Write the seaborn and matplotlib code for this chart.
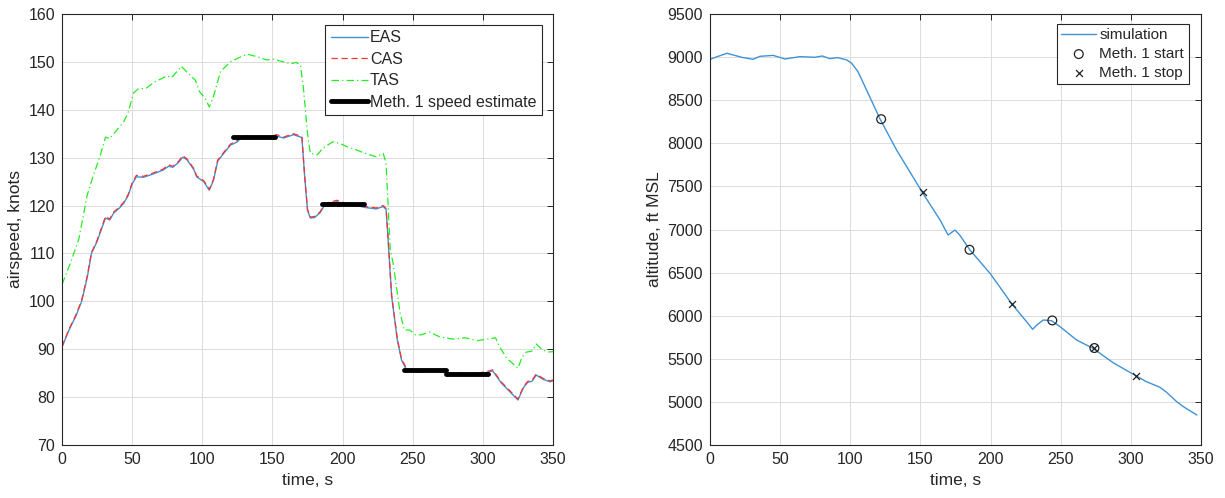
import numpy as np
import pandas as pd
import matplotlib
matplotlib.use("Agg")
import matplotlib.pyplot as plt
import seaborn as sns

# --- airspeed data (left panel), knots ---
t_speed = [0, 5, 10, 14, 18, 21, 25, 28, 31, 34,
           37, 41, 44, 47, 50, 53, 58, 65, 72, 76,
           79, 83, 86, 89, 94, 96, 101, 105, 108, 111,
           115, 120, 125, 128, 136, 146, 153, 158, 165, 171,
           173, 175, 177, 180, 184, 187, 191, 196, 203, 210,
           216, 224, 229, 231, 232, 235, 239, 242, 245, 250,
           255, 260, 265, 270, 275, 282, 290, 295, 300, 305,
           307, 313, 319, 325, 329, 332, 335, 338, 343, 348, 350]
eas = [90.5, 94, 97, 100, 105, 110, 112.5, 115, 117.4, 117,
       118.5, 119.5, 120.5, 122, 124.5, 126, 125.9, 126.6, 127.4, 128.2,
       128, 129, 130.1, 129.6, 127.5, 126, 125, 123.2, 125.3, 129.3,
       130.8, 132.6, 133.3, 134.3, 134.2, 134, 134.5, 134.1, 134.8, 134.2,
       126, 119, 117.4, 117.5, 118.5, 120, 120.5, 120.8, 120.2, 120,
       119.6, 119.3, 119.8, 119.2, 115, 101, 92, 87.8, 86, 85.4,
       85.2, 85.5, 85.4, 85.4, 84.8, 84.9, 84.7, 84.7, 85, 85.3,
       85.5, 83, 81.2, 79.4, 82, 83.1, 83.3, 84.6, 83.7, 83.2, 83.4]
cas = [90.5, 94.2, 97.2, 100.2, 105.3, 110.2, 112.7, 115.2, 117.7, 117.2,
       118.7, 119.7, 120.7, 122.2, 124.7, 126.3, 126.1, 126.8, 127.6, 128.5,
       128.2, 129.2, 130.4, 129.8, 127.7, 126.2, 125.2, 123.4, 125.5, 129.5,
       131, 132.8, 133.6, 134.6, 134.4, 134.2, 134.8, 134.3, 135, 134.4,
       126.2, 119.2, 117.6, 117.7, 118.7, 120.2, 120.7, 121.1, 120.4, 120.2,
       119.8, 119.5, 120, 119.4, 115.2, 101.2, 92.2, 88, 86.3, 85.6,
       85.4, 85.7, 85.6, 85.6, 85, 85.1, 84.9, 84.9, 85.2, 85.5,
       85.7, 83.2, 81.4, 79.6, 82.2, 83.3, 83.5, 84.8, 83.9, 83.4, 83.6]

t_tas = [0, 6, 12, 18, 22, 27, 31, 34, 38, 44,
         47, 51, 54, 60, 66, 71, 75, 78, 82, 85,
         89, 95, 98, 102, 105, 108, 113, 120, 127, 132,
         139, 146, 150, 158, 163, 167, 170, 172, 175, 177,
         182, 186, 193, 198, 203, 210, 217, 224, 229, 231,
         234, 236, 241, 244, 248, 252, 256, 262, 269, 279,
         287, 296, 303, 309, 312, 317, 321, 325, 328, 331,
         335, 338, 342, 346, 350]
tas = [103.5, 108, 113, 122.2, 126, 130.2, 134.3, 134, 135.4, 137.5,
       139.3, 143.5, 144.3, 144.5, 145.8, 146.5, 147.1, 146.7, 148, 149.1,
       147.9, 146.2, 143.8, 142.4, 140.6, 142.8, 148, 150, 151, 151.6,
       151.1, 150.4, 150.6, 150, 149.6, 149.9, 149.3, 144.8, 135.1, 130.9,
       130.6, 132, 133.3, 133, 132.3, 131.6, 130.8, 130.2, 130.9, 128.8,
       110.7, 108, 97.6, 94, 94, 93, 93, 93.6, 92.6, 92.1,
       92.4, 91.8, 92.1, 92.4, 90.5, 88.1, 87.1, 86, 88.4, 89.4,
       89.6, 91.1, 90, 89.4, 89.5]

# Method 1 windows
meth_start = [122, 185, 244, 274]
meth_stop = [152, 215, 274, 304]
meth_speed = [134.4, 120.3, 85.6, 84.9]

# --- altitude data (right panel), ft MSL ---
t_alt = [0, 6, 12, 16.5, 22.5, 30.7, 35.6, 45, 53.5, 64,
         75, 80, 85.5, 91, 97.5, 101, 105.5, 110.5, 121.2, 133,
         151.5, 164, 169.7, 174.6, 178, 185.3, 199.6, 215.2, 225.7, 230,
         233, 237.5, 243.5, 249.5, 261.3, 273, 287.3, 303.5, 311, 320.7,
         325.5, 332.7, 337.5, 347]
alt = [8974, 9010, 9044, 9025, 8998, 8974, 9009, 9020, 8978, 9005,
       8998, 9013, 8982, 8994, 8967, 8928, 8831, 8657, 8282, 7922,
       7427, 7110, 6936, 6994, 6936, 6762, 6492, 6136, 5930, 5842,
       5892, 5950, 5942, 5873, 5718, 5622, 5455, 5304, 5235, 5170,
       5111, 5002, 4944, 4848]
alt_start = [8280, 6765, 5945, 5625]
alt_stop = [7430, 6140, 5625, 5305]

sns.set_style("white")
plt.rcParams['font.family'] = ['Liberation Sans', 'DejaVu Sans']

fig = plt.figure(figsize=(12.25, 4.98), dpi=100)
ax1 = fig.add_axes([62 / 1225, 53 / 498, 491 / 1225, 431 / 498])
ax2 = fig.add_axes([710 / 1225, 53 / 498, 491 / 1225, 431 / 498])

TXT = '#262626'


def style_axes(ax):
    ax.grid(True, color='#dcdcdc', linewidth=0.7)
    ax.set_axisbelow(True)
    for s in ax.spines.values():
        s.set_visible(True)
        s.set_color(TXT)
        s.set_linewidth(0.8)
    ax.tick_params(direction='in', length=4, width=0.7, colors=TXT,
                   labelsize=11.5, top=True, right=True,
                   labeltop=False, labelright=False, pad=5)


# left: airspeeds
sns.lineplot(x=t_speed, y=eas, ax=ax1, color='#3f93d4', linewidth=1.0,
             label='EAS', sort=False)
sns.lineplot(x=t_speed, y=cas, ax=ax1, color='#ff3030', linewidth=0.9,
             linestyle=(0, (5, 3)), label='CAS', sort=False)
sns.lineplot(x=t_tas, y=tas, ax=ax1, color='#22ee22', linewidth=0.9,
             linestyle=(0, (6, 2.5, 1, 2.5)), label='TAS', sort=False)
for i, (a, b, v) in enumerate(zip(meth_start, meth_stop, meth_speed)):
    sns.lineplot(x=[a, b], y=[v, v], ax=ax1, color='black', linewidth=3.5,
                 label='Meth. 1 speed estimate' if i == 0 else None)

ax1.set_xlim(0, 350)
ax1.set_ylim(70, 160)
ax1.set_xticks(np.arange(0, 351, 50))
ax1.set_yticks(np.arange(70, 161, 10))
ax1.set_xlabel('time, s', fontsize=12.5, color=TXT)
ax1.set_ylabel('airspeed, knots', fontsize=12.5, color=TXT)
style_axes(ax1)
leg1 = ax1.legend(loc='upper right', bbox_to_anchor=(0.978, 0.975),
                  fontsize=11.5, frameon=True, fancybox=False, framealpha=1,
                  edgecolor=TXT, handlelength=2.3, handletextpad=0.15,
                  borderpad=0.35, labelspacing=0.4, borderaxespad=0)
leg1.get_frame().set_linewidth(0.8)

# right: altitude
sns.lineplot(x=t_alt, y=alt, ax=ax2, color='#3f93d4', linewidth=1.0,
             label='simulation', sort=False)
sns.scatterplot(x=meth_start, y=alt_start, ax=ax2, marker='o', s=40,
                facecolors='none', edgecolor='#222222', linewidth=0.9,
                label='Meth. 1 start', zorder=5)
sns.scatterplot(x=meth_stop, y=alt_stop, ax=ax2, marker='x', s=25,
                color='#222222', linewidth=0.9, label='Meth. 1 stop', zorder=5)

ax2.set_xlim(0, 350)
ax2.set_ylim(4500, 9500)
ax2.set_xticks(np.arange(0, 351, 50))
ax2.set_yticks(np.arange(4500, 9501, 500))
ax2.set_xlabel('time, s', fontsize=12.5, color=TXT)
ax2.set_ylabel('altitude, ft MSL', fontsize=12.5, color=TXT)
style_axes(ax2)
leg2 = ax2.legend(loc='upper right', bbox_to_anchor=(0.975, 0.977),
                  fontsize=11, frameon=True, fancybox=False, framealpha=1,
                  edgecolor=TXT, handlelength=2.3, handletextpad=0.2,
                  borderpad=0.3, labelspacing=0.3, borderaxespad=0)
leg2.get_frame().set_linewidth(0.8)

fig.savefig('out.png', dpi=100)
